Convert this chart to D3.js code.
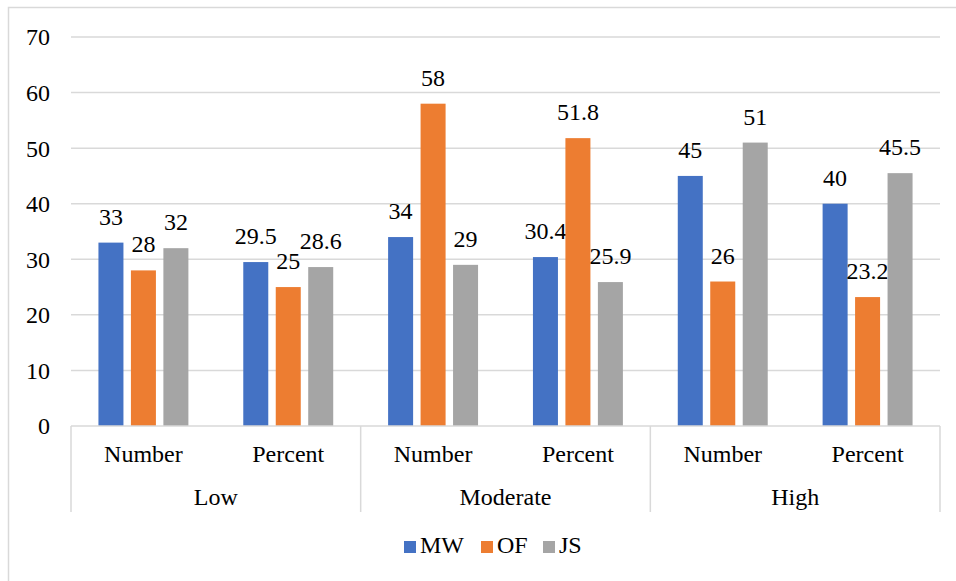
<!DOCTYPE html>
<html>
<head>
<meta charset="utf-8">
<script src="https://cdn.jsdelivr.net/npm/d3@7"></script>
<style>
  body { margin: 0; background: #fff; }
  svg { display: block; }
</style>
</head>
<body>
<svg id="chart" width="956" height="581"></svg>
<script>
// chart data
const groups = ["Low", "Moderate", "High"];
const subs = ["Number", "Percent"];
const series = ["MW", "OF", "JS"];
const colors = ["#4472C4", "#ED7D31", "#A5A5A5"];
const mwValues = [33, 29.5, 34, 30.4, 45, 40];
const ofValues = [28, 25, 58, 51.8, 26, 23.2];
const jsValues = [32, 28.6, 29, 25.9, 51, 45.5];
const yTicks = [0, 10, 20, 30, 40, 50, 60, 70];

const values = [mwValues, ofValues, jsValues];
const cats = [];
groups.forEach(g => subs.forEach(s => cats.push({ group: g, sub: s })));

const FONT = '"Liberation Serif", "Times New Roman", serif';
const svg = d3.select("#chart").attr("font-family", FONT);
const plotLeft = 71, plotRight = 940, plotTop = 37, plotBottom = 426;

// outer chart border (only left/top visible)
svg.append("rect")
  .attr("x", 8.5).attr("y", 7.5)
  .attr("width", 1000).attr("height", 1000)
  .attr("fill", "none")
  .attr("stroke", "#D9D9D9")
  .attr("stroke-width", 1.5);

const y = d3.scaleLinear().domain([0, 70]).range([plotBottom, plotTop]);
const x0 = d3.scaleBand().domain(d3.range(cats.length)).range([plotLeft, plotRight]);
const x1 = d3.scaleBand().domain(series).range([0, x0.bandwidth()])
  .paddingInner(0.23).paddingOuter(0.845);

// gridlines
svg.append("g").selectAll("line")
  .data(yTicks.filter(t => t > 0))
  .enter().append("line")
  .attr("x1", plotLeft).attr("x2", plotRight)
  .attr("y1", d => y(d)).attr("y2", d => y(d))
  .attr("stroke", "#D9D9D9")
  .attr("stroke-width", 1.5);

// y tick labels
svg.append("g").selectAll("text")
  .data(yTicks)
  .enter().append("text")
  .attr("x", 50)
  .attr("y", d => y(d))
  .attr("dy", "0.35em")
  .attr("text-anchor", "end")
  .style("font-family", FONT)
  .style("font-size", "24px")
  .attr("fill", "#000")
  .text(d => d);

// bars + labels
series.forEach((s, si) => {
  const g = svg.append("g");
  g.selectAll("rect")
    .data(values[si])
    .enter().append("rect")
    .attr("x", (d, i) => x0(i) + x1(s))
    .attr("y", d => y(d))
    .attr("width", x1.bandwidth())
    .attr("height", d => y(0) - y(d))
    .attr("fill", colors[si]);

  g.selectAll("text")
    .data(values[si])
    .enter().append("text")
    .attr("x", (d, i) => x0(i) + x1(s) + x1.bandwidth() / 2)
    .attr("y", d => y(d) - 18)
    .attr("text-anchor", "middle")
    .style("font-family", FONT)
    .style("font-size", "24px")
    .attr("fill", "#000")
    .text(d => d);
});

// category axis
const axisBottom = 512;
svg.append("line")
  .attr("x1", plotLeft).attr("x2", plotRight)
  .attr("y1", plotBottom).attr("y2", plotBottom)
  .attr("stroke", "#D9D9D9")
  .attr("stroke-width", 1.5);

const gw = (plotRight - plotLeft) / groups.length;
svg.append("g").selectAll("line")
  .data(d3.range(groups.length + 1))
  .enter().append("line")
  .attr("x1", d => plotLeft + d * gw).attr("x2", d => plotLeft + d * gw)
  .attr("y1", plotBottom).attr("y2", axisBottom)
  .attr("stroke", "#D9D9D9")
  .attr("stroke-width", 1.5);

svg.append("g").selectAll("text")
  .data(cats)
  .enter().append("text")
  .attr("x", (d, i) => x0(i) + x0.bandwidth() / 2)
  .attr("y", 462)
  .attr("text-anchor", "middle")
  .style("font-family", FONT)
  .style("font-size", "24px")
  .text(d => d.sub);

svg.append("g").selectAll("text")
  .data(groups)
  .enter().append("text")
  .attr("x", (d, i) => plotLeft + (i + 0.5) * gw)
  .attr("y", 505)
  .attr("text-anchor", "middle")
  .style("font-family", FONT)
  .style("font-size", "24px")
  .text(d => d);

// legend
const legendX = [404, 481, 543];
const legend = svg.append("g");
series.forEach((s, si) => {
  legend.append("rect")
    .attr("x", legendX[si]).attr("y", 541)
    .attr("width", 12).attr("height", 12)
    .attr("fill", colors[si]);
  legend.append("text")
    .attr("x", legendX[si] + 16).attr("y", 553)
    .style("font-family", FONT)
    .style("font-size", "24px")
    .text(s);
});
</script>
</body>
</html>
